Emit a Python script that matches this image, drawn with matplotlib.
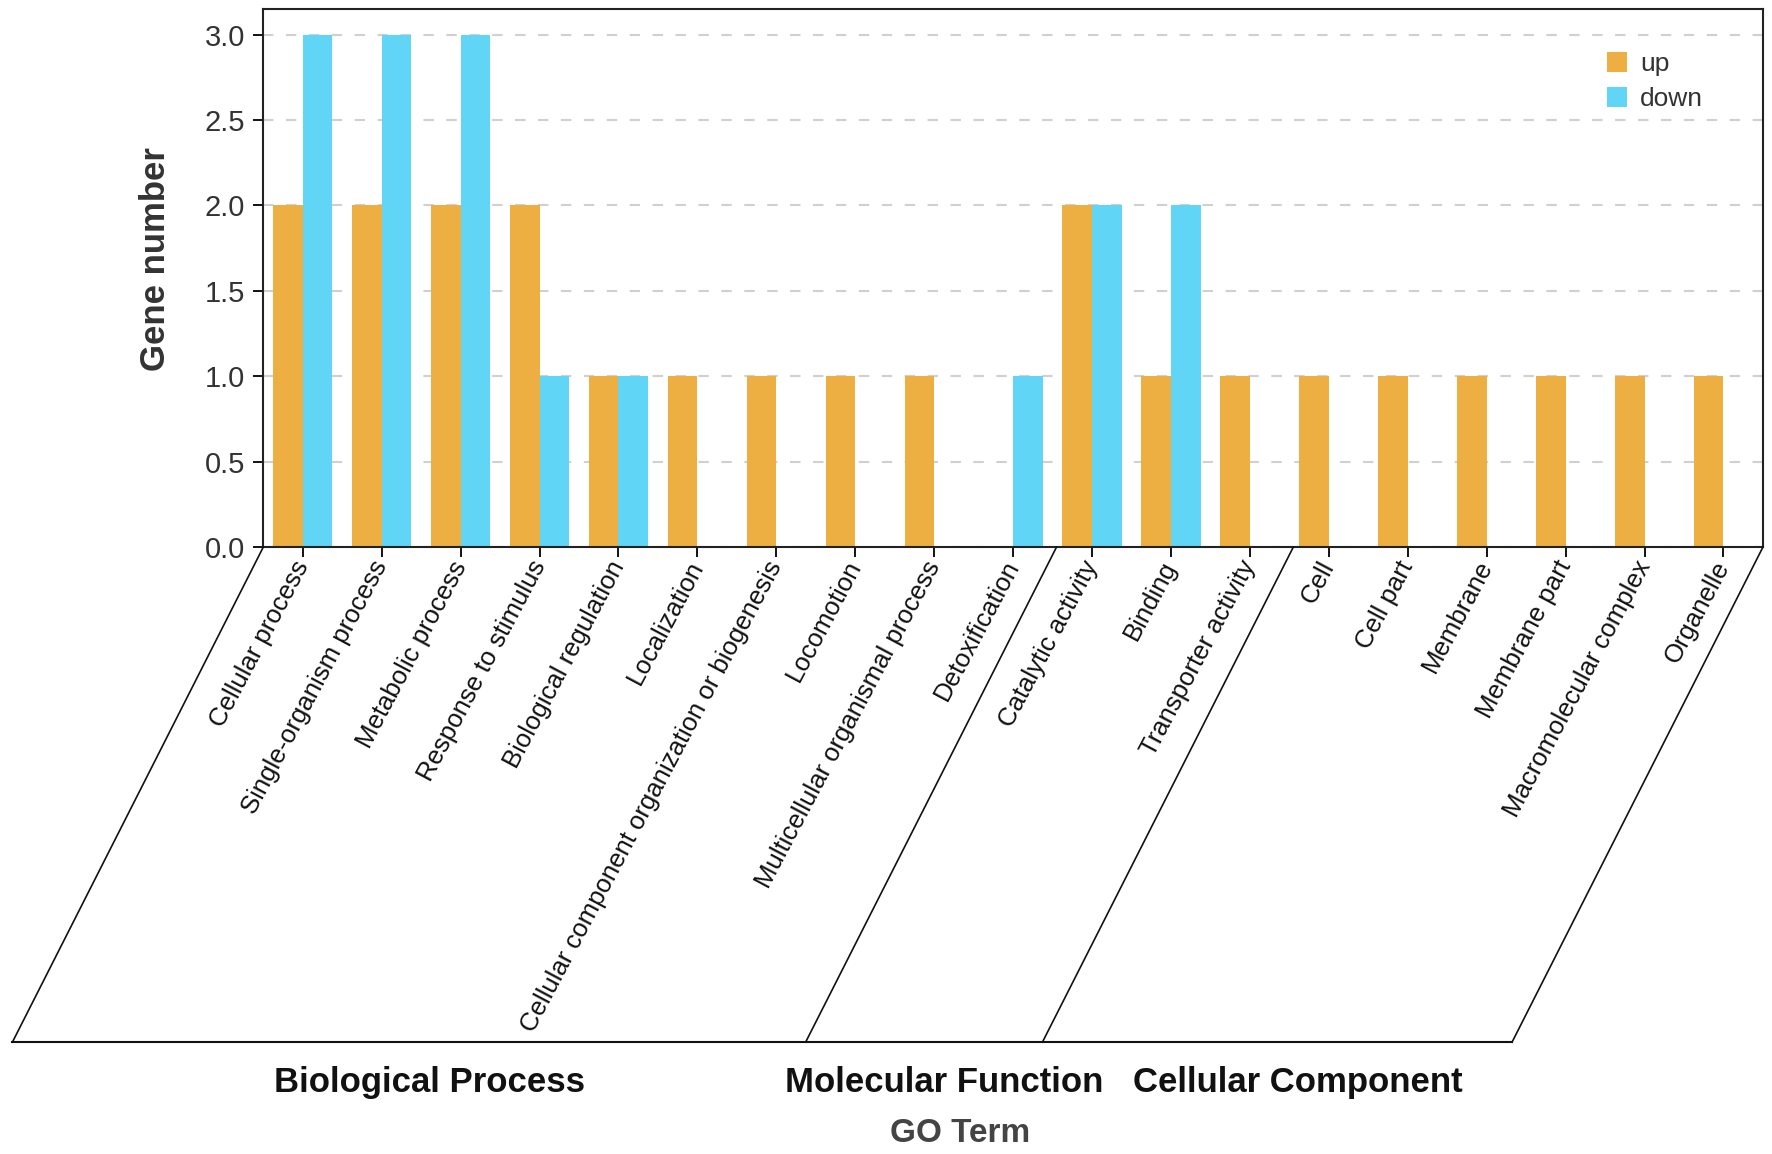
import numpy as np
import matplotlib
matplotlib.use("Agg")
import matplotlib.pyplot as plt
from matplotlib.lines import Line2D

plt.rcParams['font.family'] = ['Liberation Sans', 'DejaVu Sans']

terms = ["Cellular process", "Single-organism process", "Metabolic process",
         "Response to stimulus", "Biological regulation", "Localization",
         "Cellular component organization or biogenesis", "Locomotion",
         "Multicellular organismal process", "Detoxification",
         "Catalytic activity", "Binding", "Transporter activity",
         "Cell", "Cell part", "Membrane", "Membrane part",
         "Macromolecular complex", "Organelle"]
up = [2, 2, 2, 2, 1, 1, 1, 1, 1, 0, 2, 1, 1, 1, 1, 1, 1, 1, 1]
down = [3, 3, 3, 1, 1, 0, 0, 0, 0, 1, 2, 2, 0, 0, 0, 0, 0, 0, 0]
groups = ["Biological Process", "Molecular Function", "Cellular Component"]
group_sizes = [10, 3, 6]

c_up = '#EEAF42'
c_down = '#61D5F6'

W, H = 1568.0, 1021.0   # reference layout measured in these units
fig = plt.figure(figsize=(17.72, 11.54), dpi=100)
ax = fig.add_axes([233/W, 1-484/H, (1560-233)/W, (484-8)/H])

x = np.arange(len(terms))
w = 0.375
ax.bar(x - w/2, up, w, color=c_up, label='up', zorder=2)
ax.bar(x + w/2, down, w, color=c_down, label='down', zorder=2)

xmin, xmax = -0.5, len(terms) - 0.5
ax.set_xlim(xmin, xmax)
ax.set_ylim(0, 3.15)
ax.set_yticks(np.arange(0, 3.01, 0.5))
ax.set_yticklabels(['%.1f' % v for v in np.arange(0, 3.01, 0.5)],
                   fontsize=21, color='#333333')
ax.yaxis.grid(True, linestyle=(0, (5, 6)), color='#d0d0d0', linewidth=1.5, zorder=0)
ax.set_axisbelow(True)
ax.set_xticks(x)
ax.set_xticklabels(terms, rotation=62, ha='right', va='center',
                   rotation_mode='anchor', fontsize=18.5, color='#111111')
ax.tick_params(axis='x', length=7, width=1.3, pad=4)
ax.tick_params(axis='y', length=7, width=1.3, pad=6)
for s in ax.spines.values():
    s.set_linewidth(1.5)
    s.set_color('#222222')

ax.set_ylabel('Gene number', fontsize=25, fontweight='bold', color='#333333')
ax.yaxis.set_label_coords(-0.061, 0.535)

ax.legend(loc='upper left', bbox_to_anchor=(0.889, 0.94), frameon=False,
          fontsize=19, handlelength=0.75, handleheight=0.8, handletextpad=0.5,
          labelspacing=0.4, borderaxespad=0, labelcolor='#333333')

# slanted group separators below the axis
pos = ax.get_position()
def to_fig(xd):
    return pos.x0 + (xd - xmin) / (xmax - xmin) * pos.width

shift = 222 / W
y_top = pos.y0
y_bot = 1 - 922 / H
bounds = [xmin]
acc = 0
for n in group_sizes[:-1]:
    acc += n
    bounds.append(acc - 0.45)
bounds.append(xmax)
for b in bounds:
    xt = to_fig(b)
    fig.add_artist(Line2D([xt, xt - shift], [y_top, y_bot], color='#111111',
                          linewidth=1.2, transform=fig.transFigure))
fig.add_artist(Line2D([to_fig(xmin) - shift, to_fig(xmax) - shift], [y_bot, y_bot],
                      color='#111111', linewidth=1.5, transform=fig.transFigure))

for i, g in enumerate(groups):
    xc = (to_fig(bounds[i]) + to_fig(bounds[i+1])) / 2 - shift + 18 / W
    fig.text(xc, 1 - 958 / H, g, ha='center', va='center', fontsize=25,
             fontweight='bold', color='#111111')

fig.text(850 / W, 1 - 1003 / H, 'GO Term', ha='center', va='center', fontsize=24,
         fontweight='bold', color='#444444')

fig.savefig('out.png', dpi=100, facecolor='white')
